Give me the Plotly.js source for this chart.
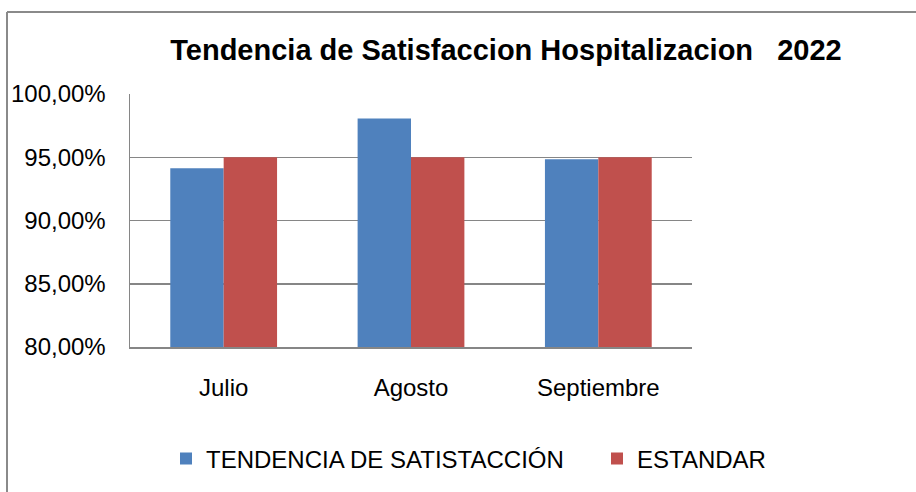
<!DOCTYPE html>
<html>
<head>
<meta charset="utf-8">
<script src="https://cdn.plot.ly/plotly-3.0.1.min.js"></script>
<style>
html,body{margin:0;padding:0;background:#fff;}
#chart{width:916px;height:492px;}
</style>
</head>
<body>
<div id="chart"></div>
<script>
var categories = ["Julio", "Agosto", "Septiembre"];
var tendencia = [0.9414, 0.9806, 0.9484];
var estandar = [0.95, 0.95, 0.95];
var seriesNames = ["TENDENCIA DE SATISTACCIÓN", "ESTANDAR"];
var chartTitle = "Tendencia de Satisfaccion Hospitalizacion   2022";

var FONT = "'Liberation Sans', Arial, sans-serif";

var L = 130, R = 692, T = 93.5, B = 348, W = 916, H = 492;
function px2x(p){ return (p - L) / (R - L); }
function py2y(p){ return (B - p) / (B - T); }

var traces = [
  {type: "bar", name: seriesNames[0], x: categories, y: tendencia,
   marker: {color: "#4F81BD", line: {width: 0}}, legend: "legend"},
  {type: "bar", name: seriesNames[1], x: categories, y: estandar,
   marker: {color: "#C0504D", line: {width: 0}}, legend: "legend2"}
];

var legendFont = {family: FONT, size: 24, color: "#000000"};

var layout = {
  width: W, height: H,
  margin: {l: L, r: W - R, t: T, b: H - B, pad: 0},
  paper_bgcolor: "#ffffff",
  plot_bgcolor: "#ffffff",
  separators: ",.",
  barmode: "group",
  bargap: 0.43,
  bargroupgap: 0,
  font: {family: FONT, color: "#000000"},
  title: {
    text: "<b>" + chartTitle + "</b>",
    font: {family: FONT, size: 29, color: "#000000"},
    xref: "container", x: 506 / W, xanchor: "center",
    yref: "container", y: 1 - 50 / H, yanchor: "middle"
  },
  xaxis: {
    type: "category",
    showgrid: false,
    showline: true, linecolor: "#868686", linewidth: 1.5,
    ticks: "",
    tickfont: {family: FONT, size: 24, color: "#000000"},
    ticklabelstandoff: 19,
    zeroline: false,
    fixedrange: true
  },
  yaxis: {
    range: [0.8, 1.0],
    dtick: 0.05,
    tick0: 0.8,
    tickformat: ".2%",
    showgrid: true, gridcolor: "#868686", gridwidth: 1.5,
    showline: true, linecolor: "#868686", linewidth: 1.5,
    ticks: "",
    tickfont: {family: FONT, size: 24, color: "#000000"},
    ticklabelstandoff: 18,
    zeroline: false,
    fixedrange: true
  },
  showlegend: true,
  legend: {
    orientation: "h",
    x: px2x(166), xanchor: "left",
    y: py2y(459), yanchor: "middle",
    font: legendFont,
    bgcolor: "rgba(0,0,0,0)"
  },
  legend2: {
    orientation: "h",
    x: px2x(597), xanchor: "left",
    y: py2y(459), yanchor: "middle",
    font: legendFont,
    bgcolor: "rgba(0,0,0,0)"
  },
  shapes: [
    {type: "line", xref: "paper", yref: "paper",
     x0: px2x(7), x1: px2x(920), y0: py2y(11), y1: py2y(11),
     line: {color: "#8a8a8a", width: 2}},
    {type: "line", xref: "paper", yref: "paper",
     x0: px2x(7), x1: px2x(7), y0: py2y(11), y1: py2y(500),
     line: {color: "#8a8a8a", width: 2}}
  ]
};

Plotly.newPlot("chart", traces, layout, {displayModeBar: false, staticPlot: true});
</script>
</body>
</html>
